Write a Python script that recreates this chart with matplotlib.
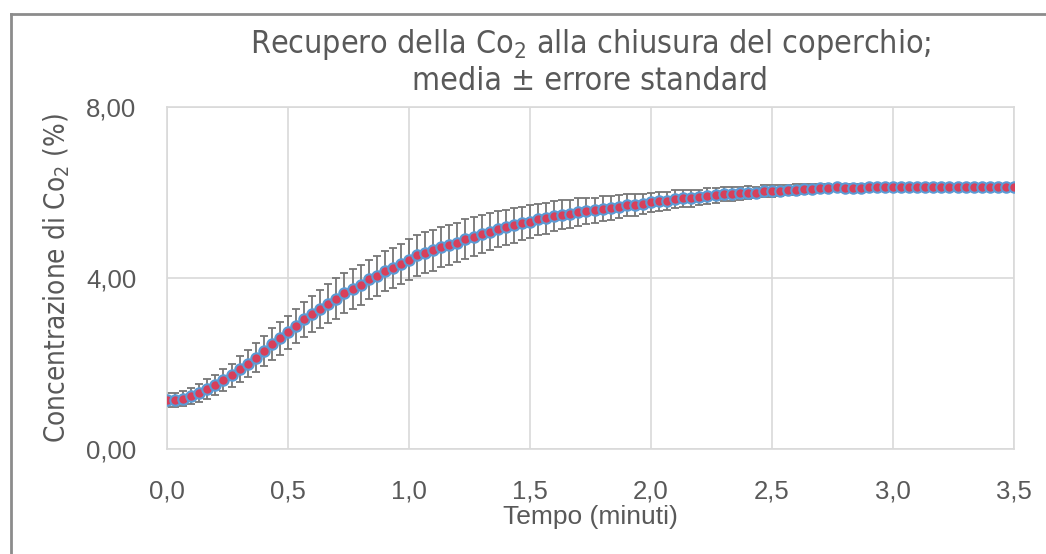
import matplotlib.pyplot as plt
import numpy as np
from matplotlib.lines import Line2D

# tempo di campionamento: un punto ogni 2 secondi (0 - 210 s)
tempo_s = np.arange(0, 211, 2)

# media della concentrazione di CO2 (%)
media_co2 = [
    1.14, 1.15, 1.18, 1.24, 1.30, 1.40, 1.50, 1.61, 1.73, 1.87, 2.00, 2.14, 2.30, 2.45, 2.59, 2.73,
    2.88, 3.03, 3.15, 3.27, 3.40, 3.52, 3.65, 3.74, 3.84, 3.97, 4.05, 4.16, 4.24, 4.33, 4.43,
    4.53, 4.59, 4.65, 4.72, 4.78, 4.83, 4.91, 4.97, 5.03, 5.08, 5.14, 5.19, 5.23, 5.28, 5.32,
    5.37, 5.40, 5.44, 5.48, 5.50, 5.54, 5.57, 5.58, 5.62, 5.64, 5.67, 5.70, 5.71, 5.73,
    5.77, 5.79, 5.81, 5.84, 5.86, 5.86, 5.89, 5.92, 5.93, 5.96, 5.96, 5.98, 6.00, 6.00, 6.03,
    6.04, 6.04, 6.06, 6.07, 6.08, 6.09, 6.11, 6.11, 6.12,
    6.11, 6.11, 6.11, 6.12, 6.12, 6.12, 6.12, 6.12, 6.12, 6.13, 6.13, 6.13, 6.13, 6.13, 6.13,
    6.13, 6.14, 6.14, 6.14, 6.14, 6.14, 6.14,
]

# errore standard
errore_std = [
    0.16, 0.16, 0.17, 0.19, 0.21, 0.23, 0.24, 0.25, 0.27, 0.30, 0.32, 0.34, 0.35, 0.37, 0.38, 0.39,
    0.40, 0.41, 0.42, 0.44, 0.45, 0.47, 0.47, 0.46, 0.46, 0.46, 0.46, 0.47, 0.47, 0.47, 0.48,
    0.48, 0.48, 0.48, 0.47, 0.47, 0.46, 0.46, 0.45, 0.44, 0.43, 0.42, 0.41, 0.40, 0.39, 0.38,
    0.37, 0.36, 0.35, 0.34, 0.33, 0.32, 0.31, 0.30, 0.29, 0.28, 0.27, 0.26, 0.25, 0.24,
    0.23, 0.22, 0.21, 0.21, 0.20, 0.19, 0.18, 0.18, 0.17, 0.16, 0.16, 0.15, 0.15, 0.14, 0.14,
    0.14, 0.13, 0.12, 0.12, 0.11, 0.11, 0.10, 0.10, 0.09,
    0.09, 0.08, 0.08, 0.07, 0.07, 0.06, 0.06, 0.06, 0.05, 0.05, 0.05, 0.05, 0.04, 0.04, 0.04,
    0.04, 0.04, 0.03, 0.03, 0.03, 0.03, 0.03,
]

x_ticks = [0.0, 0.5, 1.0, 1.5, 2.0, 2.5, 3.0, 3.5]
y_ticks = [0.0, 4.0, 8.0]

# font stretto per titolo ed etichetta y (come nell'originale)
NARROW = ["Liberation Sans Narrow", "DejaVu Sans Condensed", "DejaVu Sans"]
REGULAR = ["Liberation Sans", "DejaVu Sans"]
GRIGIO = "#595959"

plt.rcParams["mathtext.default"] = "regular"

fig = plt.figure(figsize=(10.46, 5.54), dpi=100)
ax = fig.add_axes([167 / 1046, 1 - 449 / 554, (1014 - 167) / 1046, (449 - 107) / 554])

tempo_min = tempo_s / 60.0
ax.errorbar(tempo_min, media_co2, yerr=errore_std, fmt="none",
            ecolor="#767676", elinewidth=1.3, capsize=3.2, capthick=1.3, zorder=2)
ax.plot(tempo_min, media_co2, linestyle="none", marker="o", markersize=7.5,
        markerfacecolor="#D83F5A", markeredgecolor="#5B9BD5", markeredgewidth=1.5, zorder=3)

ax.set_xlim(0, 3.5)
ax.set_ylim(0, 8)
ax.set_xticks(x_ticks)
ax.set_yticks(y_ticks)
ax.set_xticklabels([f"{v:.1f}".replace(".", ",") for v in x_ticks], family=REGULAR, fontsize=18.5, color=GRIGIO)
ax.set_yticklabels([f"{v:.2f}".replace(".", ",") for v in y_ticks], family=REGULAR, fontsize=18.5, color=GRIGIO)
ax.tick_params(axis="both", length=0)
ax.tick_params(axis="x", pad=22)
ax.tick_params(axis="y", pad=22)

ax.grid(True, color="#D9D9D9", linewidth=1.2)
ax.set_axisbelow(True)
for s in ax.spines.values():
    s.set_color("#D9D9D9")
    s.set_linewidth(1.2)

ax.set_xlabel("Tempo (minuti)", family=REGULAR, fontsize=19, color=GRIGIO, labelpad=1)
ax.set_ylabel("Concentrazione di Co$_2$ (%)", family=NARROW, stretch="condensed",
              fontsize=20, color=GRIGIO, labelpad=10)

# titolo su due righe
cx = (167 + 1014) / 2 / 1046
fig.text(cx, 1 - 53 / 554, "Recupero della Co$_2$ alla chiusura del coperchio;", family=NARROW,
         stretch="condensed", fontsize=23, color=GRIGIO, ha="center", va="baseline")
fig.text(cx, 1 - 90 / 554, "media ± errore standard", family=NARROW, stretch="condensed",
         fontsize=23, color=GRIGIO, ha="center", va="baseline")

# cornice grigia (bordo sinistro e superiore)
fig.add_artist(Line2D([11 / 1046, 11 / 1046], [0, 1 - 14 / 554], transform=fig.transFigure,
                      color="#8C8C8C", linewidth=2))
fig.add_artist(Line2D([11 / 1046, 1], [1 - 14 / 554, 1 - 14 / 554], transform=fig.transFigure,
                      color="#8C8C8C", linewidth=2))

fig.savefig("out.png", dpi=100)
